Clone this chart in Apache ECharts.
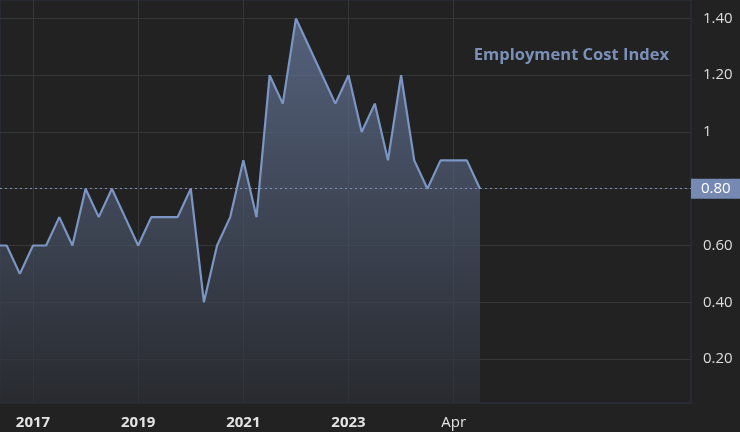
<!DOCTYPE html>
<html>
<head>
<meta charset="utf-8">
<style>
html,body{margin:0;padding:0;background:#222222;}
#chart{width:740px;height:432px;}
</style>
<script src="https://cdn.jsdelivr.net/npm/echarts@6/dist/echarts.min.js"></script>
</head>
<body>
<div id="chart"></div>
<script>
// Quarterly categories (2016 Q2 .. 2025 Q3)
const quarters = [
  '2016 Q2','2016 Q3','2016 Q4',
  '2017 Q1','2017 Q2','2017 Q3','2017 Q4',
  '2018 Q1','2018 Q2','2018 Q3','2018 Q4',
  '2019 Q1','2019 Q2','2019 Q3','2019 Q4',
  '2020 Q1','2020 Q2','2020 Q3','2020 Q4',
  '2021 Q1','2021 Q2','2021 Q3','2021 Q4',
  '2022 Q1','2022 Q2','2022 Q3','2022 Q4',
  '2023 Q1','2023 Q2','2023 Q3','2023 Q4',
  '2024 Q1','2024 Q2','2024 Q3','2024 Q4',
  '2025 Q1','2025 Q2','2025 Q3'
];
const eciValues = [
  0.6,0.6,0.5,
  0.6,0.6,0.7,0.6,
  0.8,0.7,0.8,0.7,
  0.6,0.7,0.7,0.7,
  0.8,0.4,0.6,0.7,
  0.9,0.7,1.2,1.1,
  1.4,1.3,1.2,1.1,
  1.2,1.0,1.1,0.9,
  1.2,0.9,0.8,0.9,
  0.9,0.9,0.8
];
const xTickQuarters = ['2017 Q1','2019 Q1','2021 Q1','2023 Q1','2025 Q1'];
const xTickLabels = ['2017','2019','2021','2023','Apr'];
const yTickValues = [0.2,0.4,0.6,0.8,1.0,1.2,1.4];
const lastValue = eciValues[eciValues.length-1];
const seriesName = 'Employment Cost Index';

const seriesData = quarters.map((q,i)=>[i, eciValues[i]]);
const xTickIdx = xTickQuarters.map(q=>quarters.indexOf(q));
const labelMap = {};
xTickIdx.forEach((ix,k)=>{labelMap[ix]=xTickLabels[k];});

const FONT = '"Open Sans", "DejaVu Sans", sans-serif';
const chart = echarts.init(document.getElementById('chart'), null, {renderer:'canvas'});
chart.setOption({
  backgroundColor:'#222222',
  animation:false,
  title:{
    text: seriesName,
    right: 66, top: 42,
    textStyle:{color:'#7b90b9', fontFamily:FONT, fontSize:16.5, fontWeight:'bold'}
  },
  grid:{left:0, right:49, top:0, bottom:29, show:true, borderColor:'#2f3240', borderWidth:1, backgroundColor:'transparent'},
  xAxis:{
    type:'value',
    min:0.49, max:53.05,
    axisLine:{show:false},
    axisTick:{show:false, customValues: xTickIdx},
    splitLine:{show:true, lineStyle:{color:'#353638', width:1}},
    axisLabel:{
      customValues: xTickIdx,
      margin:12,
      color:'#e4e4e4',
      fontFamily:FONT,
      fontSize:15,
      formatter:function(v){
        const t = labelMap[Math.round(v)] || '';
        return /^\d{4}$/.test(t) ? '{b|'+t+'}' : '{n|'+t+'}';
      },
      rich:{
        b:{fontWeight:'bold', fontFamily:FONT, fontSize:15, color:'#e4e4e4'},
        n:{fontWeight:'normal', fontFamily:FONT, fontSize:15, color:'#e4e4e4'}
      }
    }
  },
  yAxis:{
    type:'value',
    position:'right',
    min:0.045, max:1.465,
    axisLine:{show:false},
    axisTick:{show:false, customValues: yTickValues},
    splitLine:{show:true, lineStyle:{color:'#353638', width:1}},
    axisLabel:{
      customValues: yTickValues,
      margin:12,
      color:'#dcdcdc',
      fontFamily:FONT,
      fontSize:15,
      formatter:function(v){ return Math.abs(v-1)<1e-9 ? '1' : v.toFixed(2); }
    }
  },
  series:[{
    name: seriesName,
    type:'line',
    data: seriesData,
    symbol:'none',
    clip:true,
    lineStyle:{color:'#7b95c4', width:2.2},
    areaStyle:{
      origin:'start',
      color:new echarts.graphic.LinearGradient(0,0,0,1,[
        {offset:0, color:'#6a7da2'},
        {offset:1, color:'#2b2e35'}
      ])
    },
    markLine:{
      silent:true,
      symbol:['none','none'],
      lineStyle:{color:'#7f90b2', type:[2,3], width:1},
      label:{
        show:true,
        position:'end',
        distance:0,
        formatter: function(){ return lastValue.toFixed(2); },
        color:'#ffffff',
        fontFamily:FONT,
        fontSize:15,
        backgroundColor:'#7589b2',
        padding:[3,10,2,10],
        align:'left'
      },
      data:[{yAxis:lastValue}]
    }
  }]
});
</script>
</body>
</html>
